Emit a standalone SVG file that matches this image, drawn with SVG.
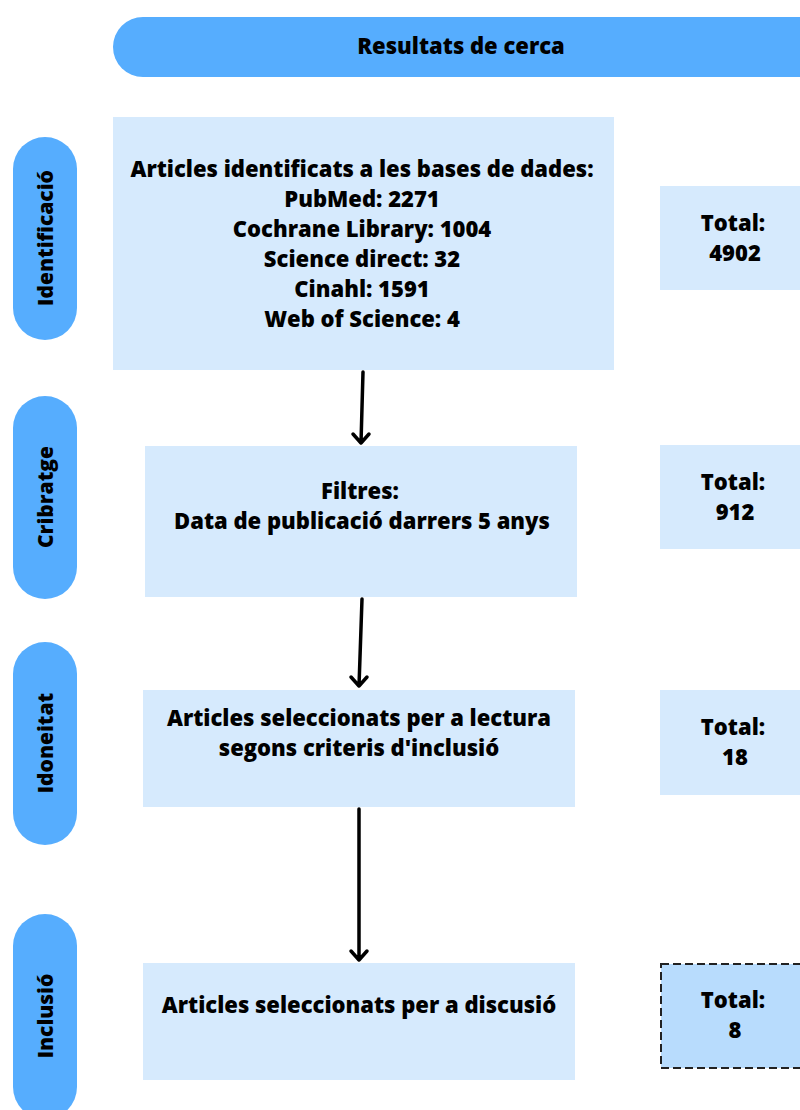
<svg xmlns="http://www.w3.org/2000/svg" width="800" height="1110" viewBox="0 0 800 1110">
<defs>
<style>
.pill{fill:#56adfe}
.box{fill:#d6eafd}
.t{font-family:"Open Sans","Liberation Sans",sans-serif;font-weight:800;font-size:22px;fill:#000;text-anchor:middle}
.vt{font-family:"Open Sans","Liberation Sans",sans-serif;font-weight:800;font-size:21px;fill:#000;text-anchor:middle;dominant-baseline:central}
.arr{stroke:#000;stroke-width:3.5;fill:none;stroke-linecap:round;stroke-linejoin:round}
</style>
</defs>
<rect width="800" height="1110" fill="#fff"/>
<g id="header"><rect class="pill" x="113" y="17" width="720" height="60" rx="30"/><text class="t" x="461" y="54">Resultats de cerca</text></g>
<g id="stage-identificacio"><rect class="pill" x="13" y="137" width="64" height="203" rx="32"/><text class="vt" transform="translate(45,238) rotate(-90)">Identificació</text></g>
<g id="stage-cribratge"><rect class="pill" x="13" y="396" width="64" height="203" rx="32"/><text class="vt" transform="translate(45,497) rotate(-90)">Cribratge</text></g>
<g id="stage-idoneitat"><rect class="pill" x="13" y="642" width="64" height="203" rx="32"/><text class="vt" transform="translate(45,743) rotate(-90)">Idoneitat</text></g>
<g id="stage-inclusio"><rect class="pill" x="13" y="914" width="64" height="205" rx="32"/><text class="vt" transform="translate(45,1016) rotate(-90)">Inclusió</text></g>
<g id="box-identificats"><rect class="box" x="113" y="117" width="501" height="253"/>
<text class="t" x="362" y="177">Articles identificats a les bases de dades:</text>
<text class="t" x="362" y="207">PubMed: 2271</text>
<text class="t" x="362" y="237">Cochrane Library: 1004</text>
<text class="t" x="362" y="267">Science direct: 32</text>
<text class="t" x="362" y="297">Cinahl: 1591</text>
<text class="t" x="362" y="327">Web of Science: 4</text></g>
<g id="total-1"><rect class="box" x="660" y="186" width="150" height="104"/><text class="t" x="733" y="231">Total:</text><text class="t" x="735" y="261">4902</text></g>
<g id="box-filtres"><rect class="box" x="145" y="446" width="432" height="151"/>
<text class="t" x="360" y="499">Filtres:</text>
<text class="t" x="362" y="529">Data de publicació darrers 5 anys</text></g>
<g id="total-2"><rect class="box" x="660" y="445" width="150" height="104"/><text class="t" x="733" y="490">Total:</text><text class="t" x="735" y="520">912</text></g>
<g id="box-lectura"><rect class="box" x="143" y="690" width="432" height="117"/>
<text class="t" x="359" y="726">Articles seleccionats per a lectura</text>
<text class="t" x="359" y="756">segons criteris d'inclusió</text></g>
<g id="total-3"><rect class="box" x="660" y="690" width="150" height="105"/><text class="t" x="733" y="735">Total:</text><text class="t" x="735" y="765">18</text></g>
<g id="box-discusio"><rect class="box" x="143" y="963" width="432" height="117"/>
<text class="t" x="359" y="1013">Articles seleccionats per a discusió</text></g>
<g id="total-4"><rect x="661" y="964" width="150" height="104" fill="#b8dcfd" stroke="#222" stroke-width="2" stroke-dasharray="8 4"/><text class="t" x="733" y="1008">Total:</text><text class="t" x="735" y="1038">8</text></g>
<g id="connectors">
<path class="arr" d="M363 372 L361 443 M353 434 L361 443 L369 434"/>
<path class="arr" d="M362 599 L359 686 M351 677 L359 686 L367 677"/>
<path class="arr" d="M359 809 L359 960 M351 951 L359 960 L367 951"/>
</g>
</svg>
